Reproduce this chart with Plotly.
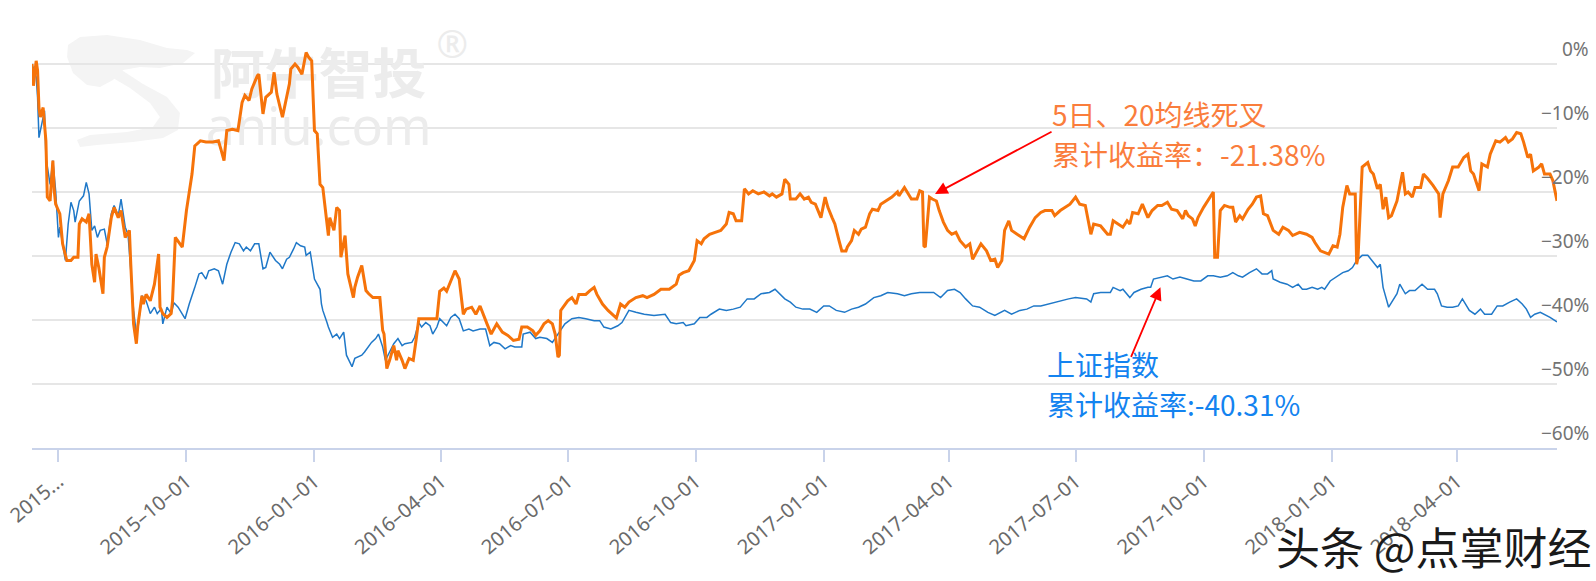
import plotly.graph_objects as go

# ---------------- data ----------------
strategy_dates = [
    "2015-06-12", "2015-06-13", "2015-06-15", "2015-06-16", "2015-06-17", "2015-06-18", "2015-06-20", "2015-06-22",
    "2015-06-23", "2015-06-25", "2015-06-27", "2015-06-28", "2015-06-29", "2015-07-02", "2015-07-04", "2015-07-07",
    "2015-07-10", "2015-07-12", "2015-07-15", "2015-07-16", "2015-07-18", "2015-07-21", "2015-07-23", "2015-07-25",
    "2015-07-27", "2015-07-28", "2015-07-30", "2015-08-02", "2015-08-03", "2015-08-05", "2015-08-08", "2015-08-10",
    "2015-08-13", "2015-08-15", "2015-08-18", "2015-08-21", "2015-08-22", "2015-08-24", "2015-08-26", "2015-08-27",
    "2015-08-30", "2015-08-31", "2015-09-02", "2015-09-05", "2015-09-08", "2015-09-11", "2015-09-12", "2015-09-14",
    "2015-09-17", "2015-09-20", "2015-09-21", "2015-09-23", "2015-09-28", "2015-10-01", "2015-10-05", "2015-10-07",
    "2015-10-11", "2015-10-15", "2015-10-20", "2015-10-24", "2015-10-26", "2015-10-28", "2015-10-30", "2015-11-03",
    "2015-11-07", "2015-11-10", "2015-11-12", "2015-11-15", "2015-11-17", "2015-11-21", "2015-11-22", "2015-11-25",
    "2015-11-27", "2015-12-01", "2015-12-03", "2015-12-05", "2015-12-09", "2015-12-12", "2015-12-14", "2015-12-15",
    "2015-12-18", "2015-12-20", "2015-12-23", "2015-12-26", "2015-12-28", "2015-12-30", "2016-01-01", "2016-01-03",
    "2016-01-05", "2016-01-07", "2016-01-09", "2016-01-11", "2016-01-12", "2016-01-15", "2016-01-17", "2016-01-19",
    "2016-01-20", "2016-01-23", "2016-01-25", "2016-01-27", "2016-01-29", "2016-01-30", "2016-02-01", "2016-02-04",
    "2016-02-07", "2016-02-09", "2016-02-12", "2016-02-17", "2016-02-19", "2016-02-20", "2016-02-22", "2016-02-24",
    "2016-02-27", "2016-02-29", "2016-03-01", "2016-03-04", "2016-03-06", "2016-03-09", "2016-03-12", "2016-03-14",
    "2016-03-16", "2016-03-21", "2016-03-29", "2016-03-31", "2016-04-03", "2016-04-05", "2016-04-08", "2016-04-11",
    "2016-04-14", "2016-04-17", "2016-04-19", "2016-04-23", "2016-04-26", "2016-04-29", "2016-05-04", "2016-05-07",
    "2016-05-11", "2016-05-15", "2016-05-19", "2016-05-23", "2016-05-27", "2016-05-29", "2016-06-02", "2016-06-06",
    "2016-06-08", "2016-06-11", "2016-06-14", "2016-06-17", "2016-06-20", "2016-06-22", "2016-06-24", "2016-06-25",
    "2016-06-26", "2016-07-01", "2016-07-04", "2016-07-07", "2016-07-09", "2016-07-14", "2016-07-17", "2016-07-20",
    "2016-07-22", "2016-07-26", "2016-07-30", "2016-08-03", "2016-08-05", "2016-08-08", "2016-08-11", "2016-08-14",
    "2016-08-19", "2016-08-24", "2016-08-27", "2016-09-01", "2016-09-06", "2016-09-12", "2016-09-17", "2016-09-19",
    "2016-09-22", "2016-09-26", "2016-09-29", "2016-09-30", "2016-10-02", "2016-10-05", "2016-10-07", "2016-10-11",
    "2016-10-15", "2016-10-19", "2016-10-23", "2016-10-25", "2016-10-28", "2016-10-30", "2016-11-03", "2016-11-05",
    "2016-11-08", "2016-11-11", "2016-11-15", "2016-11-19", "2016-11-23", "2016-11-25", "2016-11-28", "2016-12-02",
    "2016-12-04", "2016-12-07", "2016-12-08", "2016-12-12", "2016-12-15", "2016-12-18", "2016-12-21", "2016-12-23",
    "2016-12-26", "2016-12-29", "2016-12-30", "2017-01-02", "2017-01-04", "2017-01-07", "2017-01-09", "2017-01-12",
    "2017-01-14", "2017-01-17", "2017-01-18", "2017-01-21", "2017-01-23", "2017-01-26", "2017-01-28", "2017-01-31",
    "2017-02-03", "2017-02-05", "2017-02-09", "2017-02-11", "2017-02-15", "2017-02-19", "2017-02-23", "2017-02-24",
    "2017-02-28", "2017-03-03", "2017-03-05", "2017-03-09", "2017-03-11", "2017-03-13", "2017-03-14", "2017-03-15",
    "2017-03-18", "2017-03-20", "2017-03-23", "2017-03-25", "2017-03-28", "2017-03-31", "2017-04-03", "2017-04-06",
    "2017-04-09", "2017-04-13", "2017-04-16", "2017-04-18", "2017-04-21", "2017-04-24", "2017-04-28", "2017-05-01",
    "2017-05-04", "2017-05-06", "2017-05-09", "2017-05-11", "2017-05-14", "2017-05-16", "2017-05-20", "2017-05-25",
    "2017-05-29", "2017-06-02", "2017-06-06", "2017-06-09", "2017-06-14", "2017-06-16", "2017-06-20", "2017-06-24",
    "2017-06-27", "2017-07-01", "2017-07-04", "2017-07-08", "2017-07-12", "2017-07-14", "2017-07-19", "2017-07-24",
    "2017-07-26", "2017-07-28", "2017-08-01", "2017-08-04", "2017-08-07", "2017-08-09", "2017-08-11", "2017-08-15",
    "2017-08-18", "2017-08-20", "2017-08-22", "2017-08-25", "2017-08-29", "2017-09-01", "2017-09-05", "2017-09-08",
    "2017-09-12", "2017-09-16", "2017-09-18", "2017-09-20", "2017-09-23", "2017-09-25", "2017-09-27", "2017-10-01",
    "2017-10-04", "2017-10-08", "2017-10-09", "2017-10-11", "2017-10-13", "2017-10-16", "2017-10-20", "2017-10-22",
    "2017-10-24", "2017-10-27", "2017-10-29", "2017-11-02", "2017-11-05", "2017-11-08", "2017-11-11", "2017-11-13",
    "2017-11-16", "2017-11-20", "2017-11-24", "2017-11-27", "2017-12-01", "2017-12-04", "2017-12-09", "2017-12-14",
    "2017-12-18", "2017-12-20", "2017-12-24", "2017-12-27", "2017-12-30", "2018-01-02", "2018-01-05", "2018-01-07",
    "2018-01-09", "2018-01-12", "2018-01-14", "2018-01-16", "2018-01-18", "2018-01-19", "2018-01-20", "2018-01-23",
    "2018-01-27", "2018-01-29", "2018-01-31", "2018-02-03", "2018-02-05", "2018-02-07", "2018-02-09", "2018-02-11",
    "2018-02-13", "2018-02-17", "2018-02-21", "2018-02-23", "2018-02-25", "2018-02-28", "2018-03-02", "2018-03-06",
    "2018-03-08", "2018-03-11", "2018-03-15", "2018-03-19", "2018-03-20", "2018-03-22", "2018-03-26", "2018-03-29",
    "2018-04-02", "2018-04-06", "2018-04-09", "2018-04-11", "2018-04-13", "2018-04-17", "2018-04-19", "2018-04-23",
    "2018-04-25", "2018-04-29", "2018-05-02", "2018-05-06", "2018-05-08", "2018-05-11", "2018-05-14", "2018-05-17",
    "2018-05-19", "2018-05-22", "2018-05-24", "2018-05-26", "2018-05-30", "2018-06-01", "2018-06-03", "2018-06-07",
    "2018-06-09", "2018-06-12",
]
strategy_values = [
    0, -3.4, 0.5, -1, -6.8, -8.3, -6.8, -12,
    -20.8, -21.4, -15.1, -19.8, -21.9, -23.4, -28.1, -30.7,
    -30.7, -30.2, -30.2, -25, -24.2, -24.7, -23.4, -31.3,
    -34.1, -29.7, -31.8, -35.9, -30.2, -28.6, -24, -22.4,
    -24, -22.9, -27.1, -26, -31.3, -40.6, -43.7, -41,
    -36.2, -37.5, -36, -37, -34.4, -29.7, -38, -39,
    -39.6, -39, -37, -27.1, -28.6, -22.9, -17.2, -12.8,
    -12, -12.2, -12.2, -12, -13.5, -15.1, -10.4, -10.2,
    -10.4, -6, -4.9, -5.7, -3.9, -1.8, -1.6, -7.8,
    -5.2, -4.4, -1.3, -4.7, -8.3, -5.2, -3.1, -0.8,
    0, -0.5, -1.6, 1.8, 1, 0.5, -10.4, -10.9,
    -18.8, -19.3, -23.4, -26.8, -24, -26, -22.4, -22.9,
    -30.2, -26.8, -32.8, -34.9, -36.5, -34.9, -33.3, -31.5,
    -35.4, -35.9, -36.5, -36.5, -41.6, -42.2, -47.6, -46.3,
    -44, -46.3, -44.8, -46.3, -47.6, -46, -46.3, -43.2,
    -39.8, -39.8, -39.8, -35.5, -35, -35.5, -34, -32.3,
    -33.6, -39.1, -38.3, -38, -39.1, -37.8, -40.6, -42.2,
    -40.6, -41.9, -42.4, -43.2, -43, -41.1, -41.1, -41.7,
    -42.4, -41.7, -40.6, -40.1, -40.6, -42.2, -45.8, -45.5,
    -38.5, -37, -36.5, -37.5, -36, -36, -35.4, -34.9,
    -36, -37.5, -38.5, -39.3, -39.7, -37.5, -38, -37.2,
    -36.5, -36.2, -36.5, -36, -35.2, -35.2, -34.4, -33,
    -32.6, -32.3, -31.2, -30.7, -27.6, -28.1, -27.3, -26.6,
    -26.3, -26, -25, -23.2, -23.4, -24.5, -24.5, -19.5,
    -20.3, -19.8, -20.3, -20, -20.6, -20.3, -20.8, -20.3,
    -18, -18.8, -21.1, -21.1, -20.3, -21.1, -20.8, -21.6,
    -21.9, -23.7, -24, -20.8, -22.4, -24, -25, -27.6,
    -29.2, -29.2, -28.6, -27.6, -26, -26.6, -25.8, -25.5,
    -23.4, -22.7, -22.9, -21.9, -21.4, -20.8, -20, -20.6,
    -19.3, -20.3, -21.1, -21.1, -19.8, -20, -28.4, -28.6,
    -20.8, -21.1, -21.4, -22.9, -24.7, -26, -26.6, -26.3,
    -27.6, -28.6, -28.1, -30.5, -29.4, -28.1, -29.2, -30.7,
    -30.5, -31.8, -30.7, -26, -24.5, -26, -26.6, -27.3,
    -25.5, -24, -23.2, -22.9, -22.9, -23.7, -22.9, -22.4,
    -21.9, -20.8, -21.9, -22.1, -26.6, -25, -25.3, -26.6,
    -26.6, -24.5, -25, -25.5, -24.5, -25, -23.2, -23.4,
    -21.9, -22.9, -24, -22.9, -22.1, -22.1, -21.6, -22.7,
    -22.9, -24.2, -22.9, -23.7, -24.2, -25.3, -24, -22.4,
    -21.4, -20, -30.2, -30.2, -22.9, -22.1, -22.4, -22.4,
    -24.7, -23.7, -24.2, -22.7, -21.9, -20.8, -20.6, -23.4,
    -23.7, -26, -26.6, -25.5, -26, -26.8, -26.3, -26.6,
    -27.1, -27.9, -29.2, -29.4, -29.7, -28.4, -28.6, -26.6,
    -22.4, -19, -20.3, -20.3, -20.3, -31.3, -30.2, -16.1,
    -15.4, -16.7, -17.2, -19.5, -18.8, -22.7, -20.8, -24,
    -23.7, -21.4, -16.9, -20.3, -20, -20.8, -19.3, -19.3,
    -17.2, -17.9, -19, -20.3, -24, -20.3, -18.2, -16.1,
    -16.1, -14.6, -14.1, -16.7, -17.2, -19.8, -15.6, -16.1,
    -14.1, -12, -12.2, -11.5, -12.2, -11.7, -10.7, -10.9,
    -12.2, -14.6, -14.1, -16.7, -16.1, -15.6, -17.2, -17.2,
    -18.2, -21.38,
]

index_dates = [
    "2015-06-12", "2015-06-14", "2015-06-15", "2015-06-16", "2015-06-17", "2015-06-19", "2015-06-21", "2015-06-22",
    "2015-06-25", "2015-06-27", "2015-06-29", "2015-07-01", "2015-07-02", "2015-07-04", "2015-07-06", "2015-07-08",
    "2015-07-10", "2015-07-12", "2015-07-13", "2015-07-16", "2015-07-19", "2015-07-21", "2015-07-23", "2015-07-25",
    "2015-07-27", "2015-07-29", "2015-07-31", "2015-08-03", "2015-08-05", "2015-08-08", "2015-08-10", "2015-08-13",
    "2015-08-15", "2015-08-18", "2015-08-20", "2015-08-22", "2015-08-24", "2015-08-26", "2015-08-27", "2015-08-30",
    "2015-09-02", "2015-09-05", "2015-09-08", "2015-09-10", "2015-09-13", "2015-09-14", "2015-09-17", "2015-09-20",
    "2015-09-22", "2015-09-25", "2015-09-27", "2015-09-30", "2015-10-03", "2015-10-05", "2015-10-07", "2015-10-10",
    "2015-10-12", "2015-10-15", "2015-10-17", "2015-10-21", "2015-10-24", "2015-10-27", "2015-10-30", "2015-11-02",
    "2015-11-05", "2015-11-08", "2015-11-11", "2015-11-13", "2015-11-16", "2015-11-19", "2015-11-22", "2015-11-25",
    "2015-11-27", "2015-11-30", "2015-12-04", "2015-12-07", "2015-12-09", "2015-12-12", "2015-12-14", "2015-12-17",
    "2015-12-19", "2015-12-22", "2015-12-25", "2015-12-26", "2015-12-29", "2016-01-01", "2016-01-03", "2016-01-05",
    "2016-01-06", "2016-01-07", "2016-01-10", "2016-01-11", "2016-01-14", "2016-01-17", "2016-01-19", "2016-01-22",
    "2016-01-24", "2016-01-28", "2016-01-30", "2016-02-04", "2016-02-06", "2016-02-09", "2016-02-11", "2016-02-14",
    "2016-02-16", "2016-02-19", "2016-02-21", "2016-02-24", "2016-02-27", "2016-03-01", "2016-03-04", "2016-03-06",
    "2016-03-11", "2016-03-13", "2016-03-16", "2016-03-18", "2016-03-21", "2016-03-24", "2016-03-26", "2016-03-29",
    "2016-03-31", "2016-04-05", "2016-04-08", "2016-04-11", "2016-04-14", "2016-04-17", "2016-04-21", "2016-04-24",
    "2016-04-29", "2016-05-03", "2016-05-06", "2016-05-09", "2016-05-13", "2016-05-17", "2016-05-21", "2016-05-24",
    "2016-05-29", "2016-05-30", "2016-06-04", "2016-06-08", "2016-06-11", "2016-06-16", "2016-06-20", "2016-06-24",
    "2016-06-29", "2016-07-04", "2016-07-09", "2016-07-14", "2016-07-20", "2016-07-24", "2016-07-27", "2016-08-01",
    "2016-08-06", "2016-08-09", "2016-08-14", "2016-08-19", "2016-08-25", "2016-09-01", "2016-09-09", "2016-09-13",
    "2016-09-17", "2016-09-22", "2016-09-24", "2016-09-30", "2016-10-04", "2016-10-09", "2016-10-12", "2016-10-18",
    "2016-10-23", "2016-10-28", "2016-11-02", "2016-11-07", "2016-11-12", "2016-11-17", "2016-11-23", "2016-11-27",
    "2016-11-30", "2016-12-04", "2016-12-08", "2016-12-12", "2016-12-17", "2016-12-22", "2016-12-27", "2017-01-01",
    "2017-01-05", "2017-01-10", "2017-01-16", "2017-01-21", "2017-01-26", "2017-01-31", "2017-02-06", "2017-02-11",
    "2017-02-16", "2017-02-23", "2017-02-28", "2017-03-05", "2017-03-11", "2017-03-17", "2017-03-21", "2017-03-26",
    "2017-03-31", "2017-04-05", "2017-04-09", "2017-04-13", "2017-04-18", "2017-04-23", "2017-04-29", "2017-05-04",
    "2017-05-11", "2017-05-16", "2017-05-22", "2017-05-27", "2017-06-01", "2017-06-06", "2017-06-11", "2017-06-16",
    "2017-06-21", "2017-06-26", "2017-07-01", "2017-07-09", "2017-07-12", "2017-07-14", "2017-07-19", "2017-07-26",
    "2017-07-28", "2017-08-02", "2017-08-04", "2017-08-09", "2017-08-12", "2017-08-17", "2017-08-22", "2017-08-24",
    "2017-08-26", "2017-08-31", "2017-09-05", "2017-09-09", "2017-09-14", "2017-09-19", "2017-09-24", "2017-09-29",
    "2017-10-04", "2017-10-08", "2017-10-13", "2017-10-18", "2017-10-22", "2017-10-26", "2017-10-29", "2017-11-03",
    "2017-11-08", "2017-11-12", "2017-11-16", "2017-11-19", "2017-11-20", "2017-11-25", "2017-11-30", "2017-12-04",
    "2017-12-08", "2017-12-11", "2017-12-14", "2017-12-18", "2017-12-22", "2017-12-25", "2017-12-27", "2017-12-31",
    "2018-01-05", "2018-01-09", "2018-01-13", "2018-01-16", "2018-01-19", "2018-01-23", "2018-01-27", "2018-01-30",
    "2018-02-03", "2018-02-05", "2018-02-07", "2018-02-11", "2018-02-14", "2018-02-17", "2018-02-19", "2018-02-23",
    "2018-02-26", "2018-03-02", "2018-03-07", "2018-03-11", "2018-03-16", "2018-03-18", "2018-03-21", "2018-03-25",
    "2018-03-29", "2018-04-02", "2018-04-05", "2018-04-10", "2018-04-14", "2018-04-18", "2018-04-21", "2018-04-26",
    "2018-04-30", "2018-05-04", "2018-05-09", "2018-05-14", "2018-05-18", "2018-05-21", "2018-05-24", "2018-05-27",
    "2018-05-31", "2018-06-03", "2018-06-07", "2018-06-12",
]
index_values = [
    0, -1.3, -2, -5.2, -11.5, -9.4, -7.3, -14.6,
    -18.8, -15.1, -19.8, -27.1, -25.5, -28.1, -30.7, -25,
    -21.6, -22.9, -24.7, -21.4, -20.6, -18.5, -20.3, -26,
    -25.3, -27.1, -26, -25.8, -28.1, -23.4, -22.1, -23.7,
    -21.1, -25.5, -26.6, -32.3, -38.5, -42.2, -41.4, -36.2,
    -37, -39, -38, -39, -38.2, -40.6, -38, -39,
    -37.3, -38, -38.8, -39.8, -37.5, -36, -34.9, -32.8,
    -32.6, -33.6, -32.3, -32, -32.3, -34.4, -31.3, -29.4,
    -27.9, -28.1, -29.2, -28.6, -29.2, -28.1, -28.1, -32,
    -31.8, -29.4, -30.7, -31.3, -32, -30.5, -30.2, -28.9,
    -27.9, -28.4, -28.6, -29.9, -29.4, -33.6, -34.4, -35.2,
    -37.5, -38.5, -40.4, -41.1, -42.7, -42.2, -42.9, -41.9,
    -45.5, -47.3, -46, -45.5, -45, -44, -43.5, -42.9,
    -42.2, -44.2, -46.3, -45, -43.7, -42.9, -44, -43.7,
    -43.5, -42.7, -40.4, -41.1, -40.4, -40.9, -42.2, -41.1,
    -39.8, -40.9, -39.6, -39.1, -39.8, -41.7, -41.4, -41.7,
    -41.4, -41.4, -44, -43.5, -43.7, -44.5, -44, -44.2,
    -44.2, -42.2, -41.9, -42.9, -42.7, -42.9, -43.5, -42.2,
    -40.6, -39.8, -39.6, -39.8, -40.1, -40.1, -41.1, -41.4,
    -40.9, -40.4, -38.5, -38.8, -39.1, -39.3, -39.1, -40.4,
    -40.6, -40.4, -40.9, -40.6, -39.6, -39.6, -39.1, -38.3,
    -38.5, -38.3, -38, -36.7, -36.7, -35.9, -35.7, -35.2,
    -35.9, -36.7, -37.2, -38, -38.3, -38.3, -38.8, -37.8,
    -37.8, -38.5, -38.8, -38.3, -38, -37.5, -36.5, -36.2,
    -35.7, -35.9, -36.2, -35.9, -35.7, -35.7, -35.7, -36.5,
    -35.4, -35.2, -35.7, -36.7, -37.8, -38, -38.8, -39.3,
    -38.5, -39.1, -38.5, -38.3, -37.8, -37.8, -37.5, -37.2,
    -37, -36.7, -36.5, -36.7, -37.2, -35.9, -35.7, -35.7,
    -34.9, -35.4, -35.2, -36.5, -35.7, -35.2, -34.9, -34.9,
    -33.6, -33.3, -33.1, -33.6, -33.3, -33.6, -33.9, -33.9,
    -33.1, -33.1, -33.3, -33.1, -32.6, -33.1, -33.3, -32.6,
    -32, -32.8, -32.8, -32.3, -33.6, -34.1, -34.4, -34.9,
    -34.4, -35.2, -35.2, -34.9, -35.2, -34.9, -35.2, -33.9,
    -33.1, -32.6, -32.3, -31.8, -30.7, -29.9, -29.9, -30.7,
    -31.8, -31.3, -34.9, -38, -37, -35.9, -34.4, -35.9,
    -35.4, -35.4, -34.4, -35.2, -35.2, -35.9, -37.8, -38,
    -38, -37.8, -36.7, -38.5, -39.1, -38.3, -39.1, -39.1,
    -37.8, -37.8, -37.2, -36.7, -37.5, -38.3, -39.6, -39.1,
    -38.8, -39.1, -39.6, -40.31,
]

tick_dates = ["2015-07-01", "2015-10-01", "2016-01-01", "2016-04-01", "2016-07-01", "2016-10-01",
              "2017-01-01", "2017-04-01", "2017-07-01", "2017-10-01", "2018-01-01", "2018-04-01"]
tick_labels = ["2015...", "2015–10–01", "2016–01–01", "2016–04–01", "2016–07–01", "2016–10–01",
               "2017–01–01", "2017–04–01", "2017–07–01", "2017–10–01", "2018–01–01", "2018–04–01"]
y_ticks = [0, -10, -20, -30, -40, -50, -60]
y_tick_labels = ["0%", "−10%", "−20%", "−30%", "−40%", "−50%", "−60%"]

strategy_label = ["5日、20均线死叉", "累计收益率：-21.38%"]
index_label = ["上证指数", "累计收益率:-40.31%"]
watermark_texts = ["阿牛智投", "aniu.com", "®"]

ORANGE = "#f6730a"
BLUE = "#1f78c8"
CJK = "Noto Sans CJK SC"
WM = "#ececec"

fig = go.Figure()
# faint watermark drawn first so the lines pass over it
fig.add_trace(go.Scatter(x=["2016-01-04"], y=[-2.5], mode="text", text=[watermark_texts[0]],
                         textfont=dict(family=CJK, size=54, color=WM, weight="bold"),
                         hoverinfo="skip", cliponaxis=False))
fig.add_trace(go.Scatter(x=["2016-01-04"], y=[-10.6], mode="text", text=[watermark_texts[1]],
                         textfont=dict(family="Noto Sans", size=52, color=WM),
                         hoverinfo="skip", cliponaxis=False))
fig.add_trace(go.Scatter(x=["2016-04-09"], y=[2.4], mode="text", text=[watermark_texts[2]],
                         textfont=dict(family="Noto Sans", size=38, color=WM),
                         hoverinfo="skip", cliponaxis=False))

fig.add_trace(go.Scatter(x=index_dates, y=index_values, mode="lines",
                         line=dict(color=BLUE, width=1.5), name="上证指数", hoverinfo="skip"))
fig.add_trace(go.Scatter(x=strategy_dates, y=strategy_values, mode="lines",
                         line=dict(color=ORANGE, width=3), name="策略", hoverinfo="skip"))

annotations = []
# right-side y tick labels, sitting just above each grid line
for v, t in zip(y_ticks, y_tick_labels):
    annotations.append(dict(xref="paper", yref="y", x=1.0226, y=v, text=t, showarrow=False,
                            xanchor="right", yanchor="bottom", yshift=0,
                            font=dict(family="Noto Sans", size=19, color="#737373")))

# strategy annotation text
for i, t in enumerate(strategy_label):
    annotations.append(dict(xref="paper", yref="y", x=0.6675, y=[-7.8, -14.0][i], text=t, showarrow=False,
                            xanchor="left", yanchor="middle", font=dict(family=CJK, size=28, color="#fa7d3c")))
# index annotation text
for i, t in enumerate(index_label):
    annotations.append(dict(xref="paper", yref="y", x=0.6645, y=[-46.9, -53.1][i], text=t, showarrow=False,
                            xanchor="left", yanchor="middle", font=dict(family=CJK, size=28, color="#1383f0")))
# red arrows
annotations.append(dict(xref="x", yref="y", x="2017-03-22", y=-20.3, ax=118, ay=-63, text="",
                        showarrow=True, arrowhead=2, arrowsize=1.4, arrowwidth=1.8, arrowcolor="#ff0000",
                        standoff=0))
annotations.append(dict(xref="x", yref="y", x="2017-08-31", y=-34.9, ax=-30, ay=71, text="",
                        showarrow=True, arrowhead=2, arrowsize=1.4, arrowwidth=1.8, arrowcolor="#ff0000",
                        standoff=0))
# source watermark, bottom right
annotations.append(dict(xref="paper", yref="paper", x=0.919, y=-0.228, text="头条 @点掌财经", showarrow=False,
                        xanchor="center", yanchor="middle",
                        font=dict(family=CJK, size=44, color="#1a1a1a")))

# faint logo glyph of the watermark (decoration, paper coordinates)
logo_top = ("M 0.0236 0.9416 L 0.0315 0.9603 L 0.0492 0.9650 L 0.0708 0.9533 L 0.0885 0.9346 "
            "L 0.1016 0.9299 L 0.1069 0.9229 L 0.0990 0.8995 L 0.0839 0.8879 L 0.0708 0.8902 "
            "L 0.0597 0.8832 L 0.0531 0.8598 L 0.0446 0.8435 L 0.0361 0.8481 L 0.0269 0.8762 "
            "L 0.0230 0.9136 Z")
logo_tail = ("M 0.0577 0.8855 L 0.0728 0.8505 L 0.0885 0.8201 L 0.0970 0.7827 L 0.0957 0.7430 "
             "L 0.0859 0.7243 L 0.0662 0.7150 L 0.0426 0.7079 L 0.0315 0.7033 L 0.0295 0.7196 "
             "L 0.0380 0.7313 L 0.0623 0.7383 L 0.0793 0.7500 L 0.0839 0.7734 L 0.0774 0.8061 "
             "L 0.0643 0.8411 L 0.0531 0.8645 Z")
shapes = [dict(type="path", xref="paper", yref="paper", path=p, fillcolor="#f4f4f4",
               line=dict(width=0), layer="below") for p in (logo_top, logo_tail)]

fig.update_layout(
    width=1596, height=581,
    margin=dict(l=32, r=39, t=20, b=133, autoexpand=False),
    paper_bgcolor="white", plot_bgcolor="white",
    showlegend=False,
    annotations=annotations,
    shapes=shapes,
    xaxis=dict(type="date", range=["2015-06-12", "2018-06-12"], automargin=False,
               tickmode="array", tickvals=tick_dates, ticktext=tick_labels,
               tickangle=-40, ticks="outside", ticklen=12, tickwidth=1.5, tickcolor="#c9d3ea",
               showline=True, linecolor="#c9d3ea", linewidth=2,
               showgrid=False, zeroline=False,
               tickfont=dict(family="Noto Sans", size=20, color="#6a6a6a")),
    yaxis=dict(range=[-60, 6.875], tickmode="array", tickvals=y_ticks, showticklabels=False,
               automargin=False,
               showgrid=True, gridcolor="#e6e6e6", gridwidth=1.5, zeroline=False, showline=False),
)

fig.write_html("out.html", config={"displayModeBar": False},
               post_script="document.body.style.margin='0';document.body.style.overflow='hidden';")
